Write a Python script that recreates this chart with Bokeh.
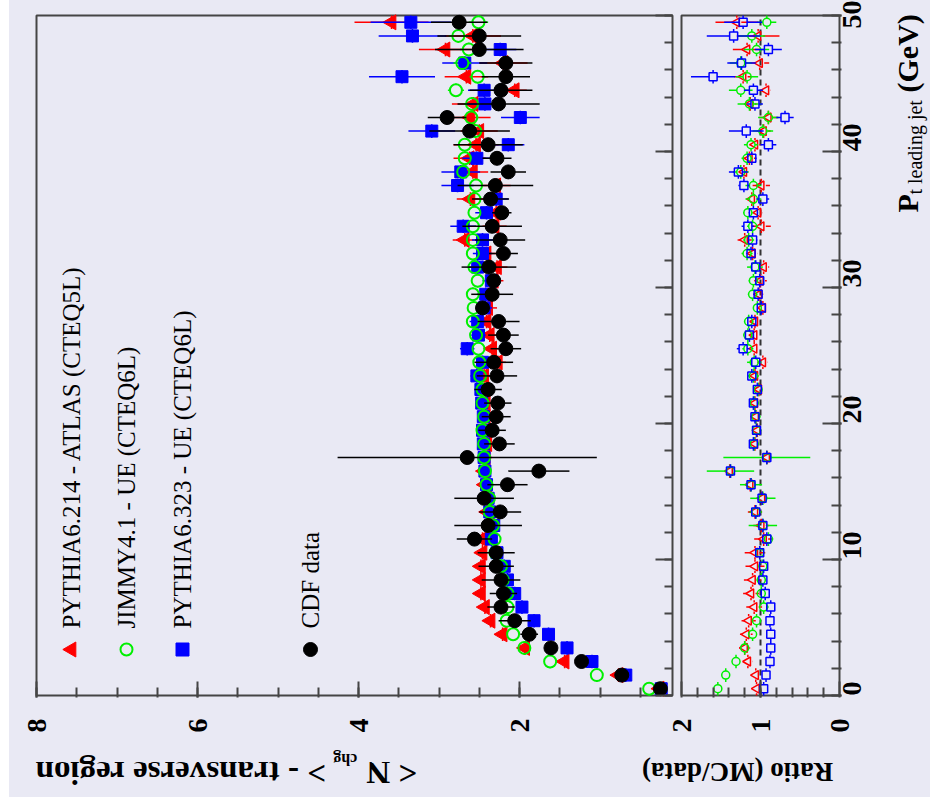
import math
from bokeh.plotting import figure
from bokeh.models import (Range1d, LinearAxis, FixedTicker, Label, Spacer,
                          CustomJSTickFormatter)
from bokeh.layouts import row, column
from bokeh.embed import file_html
from bokeh.resources import INLINE

# ---------------- data ----------------
pt_bins = [0.5, 1.5, 2.5, 3.5, 4.5, 5.5, 6.5, 7.5, 8.5, 9.5,
           10.5, 11.5, 12.5, 13.5, 14.5, 15.5, 16.5, 17.5, 18.5, 19.5,
           20.5, 21.5, 22.5, 23.5, 24.5, 25.5, 26.5, 27.5, 28.5, 29.5,
           30.5, 31.5, 32.5, 33.5, 34.5, 35.5, 36.5, 37.5, 38.5, 39.5,
           40.5, 41.5, 42.5, 43.5, 44.5, 45.5, 46.5, 47.5, 48.5, 49.5]
pt_halfwidth = 0.5

cdf_nchg = [0.25, 0.73, 1.23, 1.61, 1.88, 2.06, 2.23, 2.20, 2.23, 2.29,
            2.29, 2.56, 2.39, 2.24, 2.44, 2.15, 1.76, 2.65, 2.25, 2.34,
            2.29, 2.27, 2.39, 2.28, 2.32, 2.17, 2.20, 2.26, 2.46, 2.34,
            2.32, 2.38, 2.20, 2.24, 2.34, 2.22, 2.36, 2.30, 2.14, 2.28,
            2.39, 2.62, 2.90, 2.26, 2.23, 2.17, 2.17, 2.50, 2.50, 2.75]
cdf_err = [0.02, 0.03, 0.04, 0.05, 0.11, 0.20, 0.17, 0.17, 0.24, 0.22,
           0.23, 0.22, 0.42, 0.26, 0.37, 0.25, 0.38, 1.61, 0.19, 0.17,
           0.18, 0.17, 0.17, 0.25, 0.24, 0.19, 0.19, 0.26, 0.06, 0.26,
           0.08, 0.34, 0.18, 0.31, 0.37, 0.12, 0.23, 0.47, 0.22, 0.18,
           0.43, 0.50, 0.24, 0.51, 0.39, 0.30, 0.33, 0.55, 0.52, 0.35]

atlas_nchg = [0.26, 0.77, 1.44, 1.93, 2.21, 2.36, 2.43, 2.48, 2.48, 2.48,
              2.46, 2.46, 2.37, 2.40, 2.40, 2.43, 2.44, 2.42, 2.40, 2.42,
              2.42, 2.42, 2.43, 2.44, 2.27, 2.34, 2.37, 2.41, 2.39, 2.39,
              2.32, 2.28, 2.41, 2.68, 2.31, 2.29, 2.61, 2.29, 2.58, 2.62,
              2.54, 2.50, 2.61, 2.57, 2.06, 2.66, 2.20, 2.92, 2.58, 3.59]
atlas_err = [0.01, 0.02, 0.03, 0.03, 0.04, 0.04, 0.05, 0.05, 0.05, 0.06,
             0.06, 0.06, 0.06, 0.07, 0.07, 0.07, 0.07, 0.08, 0.08, 0.08,
             0.08, 0.09, 0.09, 0.09, 0.10, 0.10, 0.10, 0.11, 0.11, 0.12,
             0.12, 0.13, 0.13, 0.15, 0.15, 0.16, 0.17, 0.18, 0.19, 0.20,
             0.28, 0.23, 0.25, 0.27, 0.15, 0.27, 0.30, 0.33, 0.35, 0.46]

jimmy_nchg = [0.39, 1.04, 1.62, 1.94, 2.08, 2.16, 2.15, 2.15, 2.21, 2.23,
              2.30, 2.31, 2.33, 2.37, 2.38, 2.41, 2.43, 2.44, 2.44, 2.46,
              2.44, 2.46, 2.46, 2.49, 2.50, 2.51, 2.54, 2.58, 2.57, 2.58,
              2.52, 2.56, 2.58, 2.58, 2.58, 2.56, 2.56, 2.54, 2.70, 2.68,
              2.68, 2.55, 2.60, 2.59, 2.79, 2.52, 2.71, 2.63, 2.76, 2.51]
jimmy_err = [0.01, 0.02, 0.02, 0.03, 0.03, 0.03, 0.03, 0.04, 0.04, 0.04,
             0.04, 0.04, 0.05, 0.05, 0.05, 0.05, 0.05, 0.05, 0.05, 0.05,
             0.05, 0.05, 0.06, 0.06, 0.06, 0.06, 0.06, 0.06, 0.06, 0.06,
             0.07, 0.07, 0.07, 0.07, 0.07, 0.08, 0.08, 0.08, 0.08, 0.08,
             0.09, 0.09, 0.09, 0.10, 0.10, 0.10, 0.11, 0.11, 0.12, 0.12]

ue6_nchg = [0.24, 0.68, 1.10, 1.41, 1.64, 1.82, 1.97, 2.06, 2.15, 2.19,
            2.28, 2.35, 2.32, 2.37, 2.39, 2.41, 2.43, 2.44, 2.45, 2.46,
            2.45, 2.47, 2.48, 2.53, 2.46, 2.65, 2.51, 2.52, 2.44, 2.42,
            2.35, 2.52, 2.46, 2.46, 2.70, 2.41, 2.29, 2.77, 2.73, 2.53,
            2.14, 3.09, 1.99, 2.43, 2.44, 3.46, 2.68, 2.24, 3.33, 3.35]
ue6_err = [0.01, 0.02, 0.03, 0.03, 0.03, 0.04, 0.04, 0.04, 0.05, 0.05,
           0.05, 0.05, 0.06, 0.06, 0.06, 0.06, 0.06, 0.07, 0.07, 0.07,
           0.07, 0.08, 0.08, 0.08, 0.08, 0.09, 0.09, 0.10, 0.10, 0.11,
           0.11, 0.12, 0.12, 0.13, 0.16, 0.14, 0.15, 0.20, 0.24, 0.18,
           0.20, 0.29, 0.24, 0.22, 0.20, 0.41, 0.28, 0.20, 0.42, 0.50]

# ratio MC/data
atlas_ratio = [1.05, 1.06, 1.16, 1.20, 1.18, 1.15, 1.08, 1.12, 1.10, 1.07,
               1.07, 0.96, 0.99, 1.07, 0.98, 1.13, 1.39, 0.92, 1.07, 1.04,
               1.06, 1.07, 1.02, 1.07, 0.97, 1.08, 1.08, 1.07, 0.97, 1.02,
               1.00, 0.96, 1.10, 1.20, 0.99, 1.03, 1.11, 0.99, 1.21, 1.14,
               1.07, 0.96, 0.90, 1.13, 0.93, 1.22, 1.01, 1.17, 1.03, 1.30]
atlas_ratio_err = [0.04, 0.05, 0.06, 0.07, 0.08, 0.09, 0.10, 0.10, 0.11, 0.12,
                   0.13, 0.12, 0.10, 0.09, 0.07, 0.06, 0.05, 0.05, 0.05, 0.04,
                   0.04, 0.04, 0.04, 0.05, 0.06, 0.05, 0.05, 0.06, 0.05, 0.06,
                   0.08, 0.07, 0.06, 0.09, 0.12, 0.06, 0.06, 0.11, 0.06, 0.08,
                   0.07, 0.09, 0.12, 0.08, 0.06, 0.11, 0.12, 0.18, 0.27, 0.27]
jimmy_ratio = [1.54, 1.44, 1.31, 1.20, 1.10, 1.05, 0.96, 0.99, 0.99, 0.97,
               1.01, 0.90, 0.97, 1.06, 0.97, 1.12, 1.38, 0.92, 1.08, 1.05,
               1.06, 1.08, 1.03, 1.09, 1.08, 1.16, 1.16, 1.15, 1.04, 1.10,
               1.09, 1.07, 1.17, 1.15, 1.10, 1.16, 1.09, 1.09, 1.25, 1.17,
               1.12, 0.97, 0.90, 1.14, 1.25, 1.17, 1.25, 1.05, 1.11, 0.92]
jimmy_ratio_err = [0.04, 0.05, 0.05, 0.05, 0.05, 0.06, 0.06, 0.05, 0.06, 0.06,
                   0.05, 0.06, 0.18, 0.08, 0.16, 0.14, 0.30, 0.55, 0.06, 0.06,
                   0.06, 0.06, 0.05, 0.07, 0.09, 0.07, 0.06, 0.06, 0.05, 0.06,
                   0.06, 0.10, 0.07, 0.07, 0.07, 0.06, 0.10, 0.10, 0.10, 0.07,
                   0.09, 0.13, 0.13, 0.15, 0.15, 0.14, 0.14, 0.16, 0.17, 0.12]
ue6_ratio = [0.96, 0.93, 0.88, 0.87, 0.87, 0.88, 0.87, 0.94, 0.97, 0.96,
             1.01, 0.92, 0.97, 1.06, 0.98, 1.12, 1.38, 0.92, 1.09, 1.05,
             1.07, 1.09, 1.04, 1.11, 1.06, 1.22, 1.14, 1.11, 0.99, 1.03,
             1.01, 1.06, 1.12, 1.10, 1.16, 1.09, 0.97, 1.21, 1.28, 1.11,
             0.90, 1.18, 0.69, 1.07, 1.09, 1.60, 1.24, 0.90, 1.34, 1.22]
ue6_ratio_err = [0.02, 0.02, 0.02, 0.02, 0.02, 0.02, 0.02, 0.02, 0.03, 0.03,
                 0.03, 0.04, 0.04, 0.04, 0.04, 0.04, 0.04, 0.04, 0.04, 0.04,
                 0.04, 0.04, 0.05, 0.05, 0.05, 0.08, 0.05, 0.05, 0.05, 0.06,
                 0.05, 0.06, 0.06, 0.06, 0.08, 0.06, 0.08, 0.07, 0.12, 0.06,
                 0.10, 0.22, 0.11, 0.10, 0.12, 0.28, 0.18, 0.17, 0.34, 0.24]

legend_labels = ["PYTHIA6.214 - ATLAS (CTEQ5L)", "JIMMY4.1 - UE (CTEQ6L)",
                 "PYTHIA6.323 - UE (CTEQ6L)", "CDF data"]

nchg_major = [2, 4, 6, 8]
ratio_major = [0, 1, 2]
pt_major = [0, 10, 20, 30, 40, 50]

# ---------------- geometry / style ----------------
BG = "#E9E9F4"
FRAME = "#454545"
FONT = "Liberation Serif"
RED, GREEN, BLUE, BLACK = "#FF0000", "#00F000", "#0000FF", "#000000"

# panel limits (axis ranges of the two pads)
NCHG_HI, NCHG_LO = 8.0, 0.1
R_HI, R_LO = 2.0, 0.0
PT_LO, PT_HI = 0.0, 50.0

# pixel layout (page coordinates)
X_MAIN_L, X_MAIN_R = 36.0, 672.0     # main pad frame
X_RAT_L, X_RAT_R = 681.0, 839.0      # ratio pad frame
Y_TOP, Y_BOT = 15.0, 695.0
PAD = 2                              # plot frame is 2px larger than the pads
LEFT0 = 9                            # white strip at the left
FIG_W, FIG_H = 875, 745
PTF_W = 46
PAGE_H = 797

s_n = (X_MAIN_R - X_MAIN_L) / (NCHG_HI - NCHG_LO)      # px per Nchg unit
s_r = (X_RAT_R - X_RAT_L) / (R_HI - R_LO)              # px per ratio unit
s_p = (Y_BOT - Y_TOP) / (PT_HI - PT_LO)                # px per GeV
fx_l, fx_r = X_MAIN_L - PAD, X_RAT_R + PAD
fy_t, fy_b = Y_TOP - PAD, Y_BOT + PAD

nchg_range = Range1d(NCHG_HI + (X_MAIN_L - fx_l) / s_n, NCHG_HI - (fx_r - X_MAIN_L) / s_n)
ratio_range = Range1d(R_LO + (X_RAT_R - fx_l) / s_r, R_LO - (fx_r - X_RAT_R) / s_r)
pt_range = Range1d(PT_LO - PAD / s_p, PT_HI + PAD / s_p)


def nchg_of_ratio(r):
    x = X_RAT_R - (r - R_LO) * s_r
    return NCHG_HI - (x - X_MAIN_L) / s_n


def nchg_at_px(x):
    return NCHG_HI - (x - X_MAIN_L) / s_n


def pt_at_px(y):
    return PT_LO + (Y_BOT - y) / s_p


p = figure(width=FIG_W, height=FIG_H, x_range=nchg_range, y_range=pt_range,
           extra_x_ranges={"ratio": ratio_range},
           x_axis_type=None, y_axis_type=None,
           output_backend="svg", toolbar_location=None,
           min_border_left=int(fx_l - LEFT0), min_border_right=int(LEFT0 + FIG_W - fx_r),
           min_border_top=int(fy_t), min_border_bottom=int(FIG_H - fy_b),
           background_fill_color=BG, border_fill_color=BG, outline_line_color=None)

# pad boxes
p.quad(left=[NCHG_HI], right=[NCHG_LO], bottom=[PT_LO], top=[PT_HI],
       fill_color=None, line_color=FRAME, line_width=2)
p.quad(left=[R_HI], right=[R_LO], bottom=[PT_LO], top=[PT_HI], x_range_name="ratio",
       fill_color=None, line_color=FRAME, line_width=2)


def style_axis(ax, maj, mnr, size="28px"):
    ax.axis_line_color = None
    ax.major_tick_in = int(maj)
    ax.major_tick_out = 0
    ax.minor_tick_in = int(mnr)
    ax.minor_tick_out = 0
    ax.major_tick_line_color = FRAME
    ax.minor_tick_line_color = FRAME
    ax.major_tick_line_width = 2
    ax.minor_tick_line_width = 2
    ax.major_label_text_font = FONT
    ax.major_label_text_font_style = "bold"
    ax.major_label_text_font_size = size
    ax.major_label_text_color = "black"


# bottom axis: Nchg ticks under the main pad, ratio ticks under the ratio pad
b_major = list(nchg_major) + [nchg_of_ratio(r) for r in ratio_major]
b_minor = [k * 0.5 for k in range(1, 17)] + [nchg_of_ratio(k * 0.2) for k in range(1, 10)]
fmt = CustomJSTickFormatter(args=dict(nhi=NCHG_HI, xl=X_MAIN_L, sn=s_n, xr=X_RAT_R, sr=s_r, rlo=R_LO),
                            code="""
    if (tick > -0.005) { return tick.toFixed(0); }
    const x = xl + (nhi - tick) * sn;
    const r = rlo + (xr - x) / sr;
    return Math.round(r).toFixed(0);
""")
ax_b = LinearAxis(ticker=FixedTicker(ticks=b_major, minor_ticks=b_minor), formatter=fmt)
style_axis(ax_b, 14 + PAD, 8 + PAD)
ax_b.major_label_orientation = math.pi / 2
ax_b.major_label_standoff = 21
p.add_layout(ax_b, "below")

# right axis (Pt) of the ratio pad, with labels
ax_r = LinearAxis(ticker=FixedTicker(ticks=pt_major, minor_ticks=list(range(0, 51, 2))))
style_axis(ax_r, 17 + PAD, 8 + PAD)
ax_r.major_label_orientation = math.pi / 2
ax_r.major_label_standoff = 10
p.add_layout(ax_r, "right")

# right-edge ticks of the main pad (no labels)
ax_m = LinearAxis(ticker=FixedTicker(ticks=pt_major, minor_ticks=list(range(0, 51, 2))),
                  fixed_location=NCHG_LO)
style_axis(ax_m, 17, 8, size="1px")
ax_m.major_label_text_color = None
ax_m.major_label_standoff = 0
p.add_layout(ax_m, "right")

# ratio = 1 reference line
p.segment(x0=[1.0], x1=[1.0], y0=[PT_LO], y1=[PT_HI], x_range_name="ratio",
          line_color="#333333", line_dash="6 4", line_width=2)


def draw_series(vals, errs, color, marker, size, filled, angle=0.0, lw=1.5, mlw=1.0,
                xscale=1.0, rng="default"):
    # gaps so that the error bars do not cross an open marker
    gx = (size / 2.0) / xscale if not filled else 0.0
    gy = (size / 2.0) / s_p if not filled else 0.0
    hx0, hx1, hy, vx, vy0, vy1 = [], [], [], [], [], []
    for v, e, pc in zip(vals, errs, pt_bins):
        if e > gx:
            hx0 += [v - e, v + gx]
            hx1 += [v - gx, v + e]
            hy += [pc, pc]
        if pt_halfwidth > gy:
            vx += [v, v]
            vy0 += [pc - pt_halfwidth, pc + gy]
            vy1 += [pc - gy, pc + pt_halfwidth]
    p.segment(x0=hx0, x1=hx1, y0=hy, y1=hy, line_color=color, line_width=lw, x_range_name=rng)
    p.segment(x0=vx, x1=vx, y0=vy0, y1=vy1, line_color=color, line_width=lw, x_range_name=rng)
    p.scatter(x=vals, y=pt_bins, marker=marker, size=size, angle=angle,
              fill_color=color if filled else None, line_color=color, line_width=mlw,
              x_range_name=rng)


draw_series(atlas_nchg, atlas_err, RED, "triangle", 15, True, angle=math.pi / 2, xscale=s_n)
draw_series(ue6_nchg, ue6_err, BLUE, "square", 12, True, xscale=s_n)
draw_series(jimmy_nchg, jimmy_err, GREEN, "circle", 12, False, mlw=2, xscale=s_n)
draw_series(cdf_nchg, cdf_err, BLACK, "circle", 14, True, xscale=s_n)

draw_series(atlas_ratio, atlas_ratio_err, RED, "triangle", 9, False, angle=math.pi / 2,
            mlw=1.5, xscale=s_r, rng="ratio")
draw_series(jimmy_ratio, jimmy_ratio_err, GREEN, "circle", 8, False, mlw=1.5, xscale=s_r, rng="ratio")
draw_series(ue6_ratio, ue6_ratio_err, BLUE, "square", 8, False, mlw=1.5, xscale=s_r, rng="ratio")

# legend (rotated, as in the reference): marker and text share one column
leg_col_px = [71, 126, 182, 310]
leg_marker_px_y = 649
leg_text_px_y = 628
leg_x = [nchg_at_px(c) for c in leg_col_px]
p.scatter(x=[leg_x[0]], y=[pt_at_px(leg_marker_px_y)], marker="triangle", size=15,
          angle=math.pi / 2, fill_color=RED, line_color=RED)
p.scatter(x=[leg_x[1]], y=[pt_at_px(leg_marker_px_y)], marker="circle", size=12,
          fill_color=None, line_color=GREEN, line_width=2)
p.scatter(x=[leg_x[2]], y=[pt_at_px(leg_marker_px_y)], marker="square", size=13,
          fill_color=BLUE, line_color=BLUE)
p.scatter(x=[leg_x[3]], y=[pt_at_px(leg_marker_px_y)], marker="circle", size=14,
          fill_color=BLACK, line_color=BLACK)
for xt, txt in zip(leg_x, legend_labels):
    p.add_layout(Label(x=xt, y=pt_at_px(leg_text_px_y), text=txt, angle=math.pi / 2,
                       text_align="left", text_baseline="middle",
                       text_font=FONT, text_font_size="25px", text_color="black"))


def text_fig(w, h):
    f = figure(width=w, height=h, x_range=Range1d(0, w), y_range=Range1d(0, h),
               x_axis_type=None, y_axis_type=None, output_backend="svg",
               toolbar_location=None, min_border_left=0, min_border_right=0,
               min_border_top=0, min_border_bottom=0,
               background_fill_color=BG, border_fill_color=BG, outline_line_color=None)
    return f


# bottom titles (upside down in the reference); anchors are text-body centres
tb = text_fig(FIG_W, PAGE_H - FIG_H)
ttl = dict(angle=math.pi, text_align="left", text_baseline="middle",
           text_font=FONT, text_font_style="bold", text_color="black")
tb.add_layout(Label(x=424 - LEFT0, y=PAGE_H - 772, text="< N", text_font_size="33px", **ttl))
tb.add_layout(Label(x=359 - LEFT0, y=PAGE_H - 759, text="chg", text_font_size="16px", **ttl))
tb.add_layout(Label(x=325 - LEFT0, y=PAGE_H - 772, text="> - transverse region",
                    text_font_size="33px", **ttl))
tb.add_layout(Label(x=875 - LEFT0, y=PAGE_H - 771, text="Ratio (MC/data)",
                    text_font_size="27px", **ttl))

# Pt title on the right (reads bottom to top)
x0_pt = LEFT0 + FIG_W
tr = text_fig(PTF_W, PAGE_H)
pt_t = dict(angle=math.pi / 2, text_align="left", text_baseline="middle",
            text_font=FONT, text_color="black")
tr.add_layout(Label(x=907 - x0_pt, y=PAGE_H - 212, text="P", text_font_size="30px",
                    text_font_style="bold", **pt_t))
tr.add_layout(Label(x=914 - x0_pt, y=PAGE_H - 194, text="t leading jet", text_font_size="20px",
                    text_font_style="normal", **pt_t))
tr.add_layout(Label(x=907 - x0_pt, y=PAGE_H - 92, text="(GeV)", text_font_size="30px",
                    text_font_style="bold", **pt_t))

spacer = Spacer(width=LEFT0, height=PAGE_H, styles={"background-color": "white"})
col = column(p, tb, styles={"background-color": BG})
layout = row(spacer, col, tr, styles={"background-color": BG})

with open("out.html", "w") as fh:
    fh.write(file_html(layout, INLINE))
